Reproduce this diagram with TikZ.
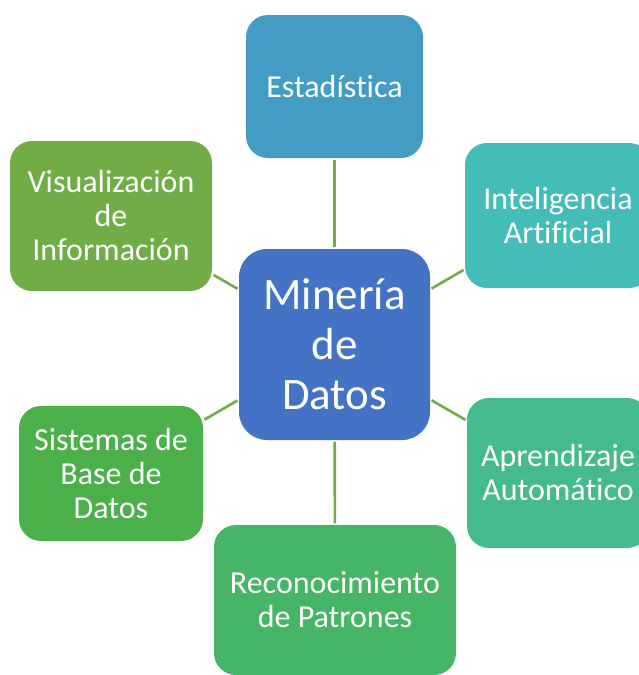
\documentclass[tikz,border=0pt]{standalone}
\usepackage{fontspec}
\setmainfont{Carlito}[Ligatures=NoCommon]
\usepackage{tikz}
\usepackage{xcolor}
\usetikzlibrary{positioning}
\definecolor{azulc}{RGB}{68,114,196}
\definecolor{estadc}{RGB}{67,156,196}
\definecolor{intelc}{RGB}{68,189,185}
\definecolor{aprendc}{RGB}{69,186,141}
\definecolor{reconc}{RGB}{70,181,101}
\definecolor{sistc}{RGB}{76,176,74}
\definecolor{visualc}{RGB}{112,173,71}
\definecolor{linkc}{RGB}{112,173,71}

\begin{document}
\begin{tikzpicture}[x=1pt, y=-1pt,
  box/.style={rounded corners=22pt, inner sep=0pt, text=white, align=center,
    font=\fontsize{32}{34}\selectfont},
  centerbox/.style={box, rounded corners=28pt, fill=azulc,
    minimum width=191pt, minimum height=191pt, font=\fontsize{45}{50}\selectfont},
  link/.style={draw=linkc, line width=2.6pt, shorten <=1.5pt, shorten >=1.5pt}]
  \useasboundingbox (0,0) rectangle (639,675);
  \node[centerbox] (mineria) at (334.5,344.5) {Minería\\de\\Datos};
  \node[box, fill=estadc, minimum width=177pt, minimum height=143pt] (estad) at (334.5,86.5) {Estadística};
  \node[box, fill=intelc, minimum width=186pt, minimum height=145pt] (intel) at (558,215.5) {Inteligencia\\Artificial};
  \node[box, fill=aprendc, minimum width=182pt, minimum height=150pt] (aprend) at (558,473) {Aprendizaje\\Automático};
  \node[box, fill=reconc, minimum width=242pt, minimum height=150pt] (recon) at (335,600) {Reconocimiento\\de Patrones};
  \node[box, fill=sistc, minimum width=184pt, minimum height=135pt] (sist) at (111,473.5) {Sistemas de\\Base de\\Datos};
  \node[box, fill=visualc, minimum width=202pt, minimum height=150pt] (visual) at (111,216) {Visualización\\de\\Información};
  \foreach \n in {estad, intel, aprend, recon, sist, visual} {
    \draw[link] (mineria) -- (\n);
  }
\end{tikzpicture}
\end{document}
